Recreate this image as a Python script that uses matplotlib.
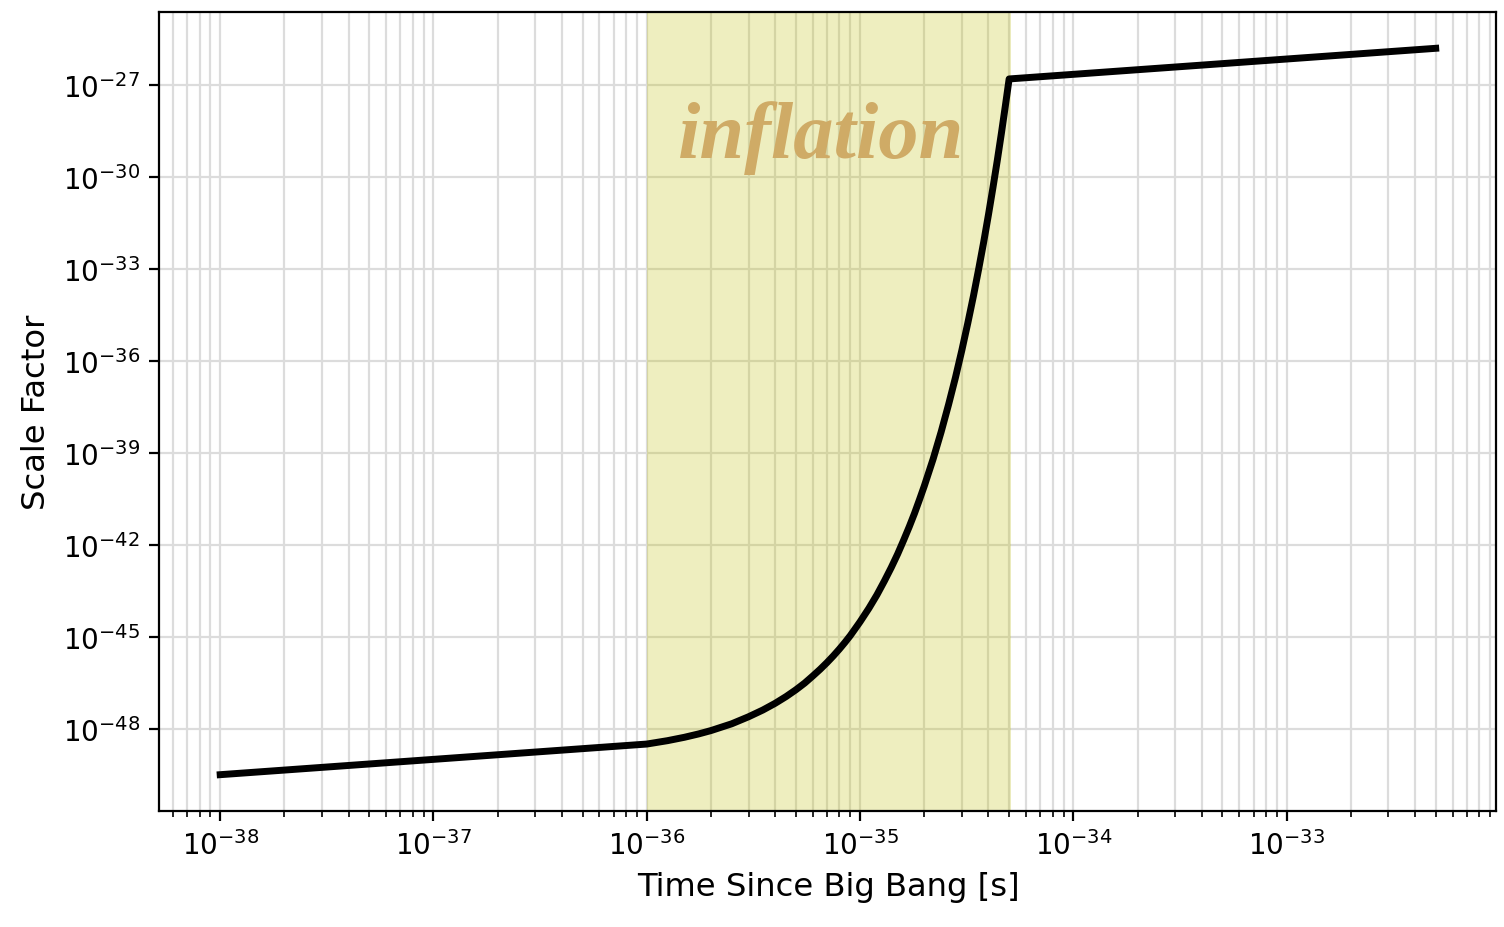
import numpy as np
import matplotlib
matplotlib.use('Agg')
import matplotlib.pyplot as plt
from matplotlib.ticker import NullLocator, FixedLocator, NullFormatter

# time since big bang [s] and log10 of the scale factor
t_before = [1e-38, 1e-36]
loga_before = [-49.5, -48.5]

# inflation, t in units of 1e-36 s
t_infl = [1, 1.25, 1.5, 1.75, 2, 2.5, 3, 3.5, 4, 4.5, 5, 5.5, 6, 6.5, 7, 7.5,
          8, 8.5, 9, 9.5, 10, 11, 12, 13, 14, 15, 16, 17, 18, 19, 20, 22, 24,
          26, 28, 30, 32, 34, 36, 38, 40, 42, 44, 46, 48, 50]
loga_infl = [-48.50, -48.39, -48.28, -48.17, -48.06, -47.84, -47.61, -47.39,
             -47.17, -46.95, -46.73, -46.51, -46.28, -46.06, -45.84, -45.62,
             -45.40, -45.18, -44.96, -44.73, -44.51, -44.07, -43.63, -43.18,
             -42.74, -42.30, -41.85, -41.41, -40.97, -40.52, -40.08, -39.20,
             -38.31, -37.42, -36.54, -35.65, -34.76, -33.88, -32.99, -32.11,
             -31.22, -30.33, -29.45, -28.56, -27.67, -26.79]

t_after = [5e-35, 5e-33]
loga_after = [-26.79, -25.79]

infl_start = 1e-36
infl_end = 5.1e-35
x_tick_exp = [-38, -37, -36, -35, -34, -33]
y_tick_exp = [-48, -45, -42, -39, -36, -33, -30, -27]

t = np.concatenate([t_before, np.array(t_infl) * 1e-36, t_after])
a = 10.0 ** np.concatenate([loga_before, loga_infl, loga_after])

plt.rcParams['font.size'] = 11.6
plt.rcParams['xtick.labelsize'] = 10
plt.rcParams['ytick.labelsize'] = 10

fig, ax = plt.subplots(figsize=(7.52, 4.64), dpi=200)
fig.subplots_adjust(left=0.106, right=0.995, top=0.986, bottom=0.125)

ax.axvspan(infl_start, infl_end, color='y', alpha=0.25, lw=0)
ax.plot(t, a, color='black', lw=2.5, solid_joinstyle='round')
ax.set_xscale('log')
ax.set_yscale('log')

ax.xaxis.set_major_locator(FixedLocator([10.0 ** e for e in x_tick_exp]))
ax.xaxis.set_minor_formatter(NullFormatter())
ax.yaxis.set_major_locator(FixedLocator([10.0 ** e for e in y_tick_exp]))
ax.yaxis.set_minor_locator(NullLocator())

ax.grid(True, which='major', color='#dcdcdc', lw=0.8)
ax.grid(True, which='minor', axis='x', color='#dcdcdc', lw=0.8)
ax.set_axisbelow(True)

ax.text(6.6e-36, 10 ** -29.35, 'inflation', fontsize=29, style='italic',
        weight='bold', family='Liberation Serif', color='#cfab66',
        ha='center', va='baseline')

ax.set_xlabel('Time Since Big Bang [s]')
ax.set_ylabel('Scale Factor')

for s in ax.spines.values():
    s.set_linewidth(0.8)

plt.savefig('out.png')
